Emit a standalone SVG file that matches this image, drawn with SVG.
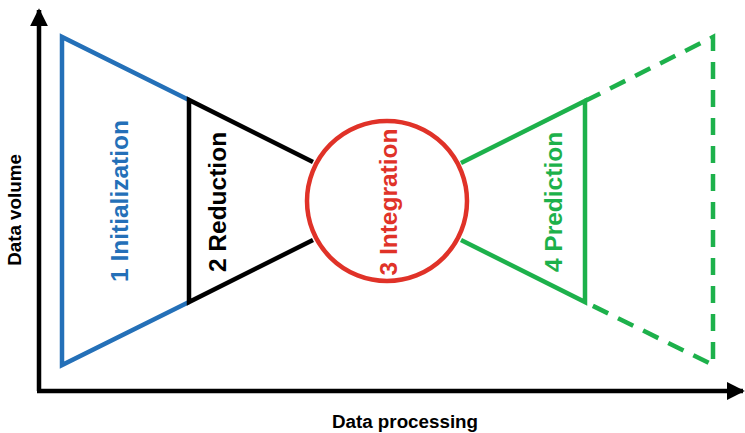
<svg xmlns="http://www.w3.org/2000/svg" width="745" height="433" viewBox="0 0 745 433">
<defs>
<marker id="arr" viewBox="0 0 10 10" refX="9" refY="5" markerWidth="4" markerHeight="4" orient="auto" markerUnits="strokeWidth">
<path d="M0,0 L10,5 L0,10 z" fill="#000"/>
</marker>
<style>
.lbl{font-family:"Liberation Sans",Arial,sans-serif;font-weight:bold;font-size:24.5px;text-anchor:middle}
.ax{font-family:"Liberation Sans",Arial,sans-serif;font-weight:bold;font-size:18.8px;text-anchor:middle;fill:#000}
.s{fill:none;stroke-width:4.5;stroke-linejoin:miter;stroke-linecap:butt}
</style>
</defs>
<rect width="745" height="433" fill="#fff"/>
<g id="axes">
<line x1="39" y1="391" x2="39" y2="10" stroke="#000" stroke-width="4.5" marker-end="url(#arr)"/>
<line x1="37" y1="391" x2="743" y2="391" stroke="#000" stroke-width="4.5" marker-end="url(#arr)"/>
<text class="ax" transform="translate(21,210) rotate(-90)">Data volume</text>
<text class="ax" x="405" y="428">Data processing</text>
</g>
<g id="initialization">
<path class="s" d="M189,100 L62,37 L62,365 L189,302" stroke="#2470b8"/>
<text class="lbl" fill="#2470b8" transform="translate(128,201) rotate(-90)">1 Initialization</text>
</g>
<g id="reduction">
<path class="s" d="M313,162 L189,100 L189,302 L313,240" stroke="#000"/>
<text class="lbl" fill="#000" transform="translate(226,202) rotate(-90)">2 Reduction</text>
</g>
<g id="integration">
<circle cx="387" cy="201" r="80" fill="none" stroke="#e03228" stroke-width="4.5"/>
<text class="lbl" fill="#e03228" transform="translate(397,202) rotate(-90)">3 Integration</text>
</g>
<g id="prediction">
<path class="s" d="M461,163 L585,101 L585,302 L461,240" stroke="#1db14b"/>
<path class="s" d="M585,101 L713,37 L713,365 L585,302" stroke="#1db14b" stroke-dasharray="17,11"/>
<text class="lbl" fill="#1db14b" transform="translate(562,202) rotate(-90)">4 Prediction</text>
</g>
</svg>
